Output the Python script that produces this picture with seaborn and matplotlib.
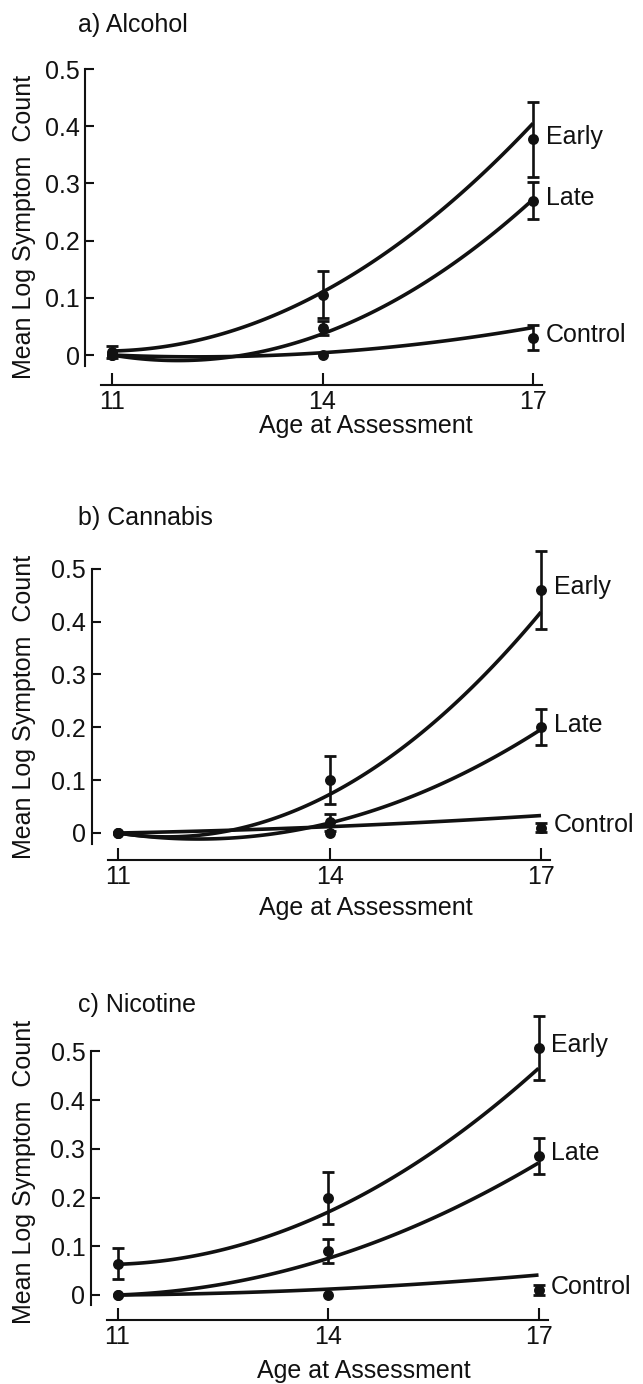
import numpy as np
import pandas as pd
import matplotlib
matplotlib.use("Agg")
import matplotlib.pyplot as plt
import seaborn as sns

# ---- data ---------------------------------------------------------------
ages = [11, 14, 17]
groups = ["Early", "Late", "Control"]
ytick_vals = [0, 0.1, 0.2, 0.3, 0.4, 0.5]
ytick_labels = ["0", "0.1", "0.2", "0.3", "0.4", "0.5"]

# observed means (dots), rows = Early, Late, Control
alcohol_means = [[0.005, 0.105, 0.377], [0.0, 0.047, 0.270], [0.0, 0.0, 0.030]]
cannabis_means = [[0.0, 0.100, 0.460], [0.0, 0.020, 0.200], [0.0, 0.0, 0.010]]
nicotine_means = [[0.064, 0.199, 0.507], [0.0, 0.090, 0.285], [0.0, 0.0, 0.011]]

# error bar half-widths
alcohol_errs = [[0.010, 0.041, 0.065], [0.0, 0.012, 0.033], [0.0, 0.0, 0.022]]
cannabis_errs = [[0.0, 0.045, 0.074], [0.0, 0.016, 0.034], [0.0, 0.0, 0.009]]
nicotine_errs = [[0.032, 0.054, 0.065], [0.0, 0.024, 0.037], [0.0, 0.0, 0.010]]

# model-fitted values at each age (the smooth curves)
alcohol_fits = [[0.007, 0.110, 0.405], [0.0, 0.037, 0.272], [0.0, 0.004, 0.048]]
cannabis_fits = [[0.0, 0.073, 0.418], [0.0, 0.019, 0.196], [0.0, 0.012, 0.033]]
nicotine_fits = [[0.063, 0.170, 0.465], [0.0, 0.075, 0.271], [0.0, 0.012, 0.041]]

titles = ["a) Alcohol", "b) Cannabis", "c) Nicotine"]

# ---- style ---------------------------------------------------------------
sns.set_theme(style="ticks")
plt.rcParams["font.family"] = ["Liberation Sans", "DejaVu Sans"]
INK = "#111111"
FS = 18

W, H = 643, 1384
XLIM = (10.62, 17.15)
YLIM = (-0.052, 0.6)

# pixel layout per panel: x of age 11, px per year, y of zero, px per unit,
# title baseline, x-label baseline, x-label centre, y-label centre
layout = [
    dict(x11=112.0, ppy=70.17, y0=355.0, ppu=572.0, tb=31.7, xb=433.0, xc=366, yc=226.5),
    dict(x11=118.3, ppy=70.45, y0=833.0, ppu=528.6, tb=525.0, xb=915.0, xc=366, yc=707.0),
    dict(x11=117.5, ppy=70.17, y0=1295.0, ppu=487.4, tb=1011.7, xb=1378.0, xc=364, yc=1171.7),
]

panel_data = [
    (alcohol_means, alcohol_errs, alcohol_fits),
    (cannabis_means, cannabis_errs, cannabis_fits),
    (nicotine_means, nicotine_errs, nicotine_fits),
]

fig = plt.figure(figsize=(W / 100, H / 100), dpi=100)

for title, lay, (means, errs, fits) in zip(titles, layout, panel_data):
    left = lay["x11"] - (11 - XLIM[0]) * lay["ppy"]
    right = lay["x11"] + (XLIM[1] - 11) * lay["ppy"]
    bottom = lay["y0"] - YLIM[0] * lay["ppu"]
    top = lay["y0"] - YLIM[1] * lay["ppu"]
    ax = fig.add_axes([left / W, 1 - bottom / H, (right - left) / W, (bottom - top) / H])
    ax.patch.set_visible(False)

    rows = []
    for g, m, e, f in zip(groups, means, errs, fits):
        for a, mv, ev, fv in zip(ages, m, e, f):
            rows.append(dict(group=g, age=a, mean=mv, err=ev, fit=fv))
    df = pd.DataFrame(rows)

    # fitted quadratic curves
    for g in groups:
        sub = df[df["group"] == g]
        sns.regplot(x=sub["age"].values, y=sub["fit"].values, order=2, ci=None,
                    scatter=False, truncate=True, ax=ax,
                    line_kws=dict(color=INK, lw=2.6, solid_capstyle="butt"))

    # error bars (only where there is one)
    eb = df[df["err"] > 0]
    ax.errorbar(eb["age"], eb["mean"], yerr=eb["err"], fmt="none", ecolor=INK,
                elinewidth=1.9, capsize=4.3, capthick=2.0, zorder=3)

    # observed means
    sns.scatterplot(data=df, x="age", y="mean", ax=ax, color=INK, s=62,
                    edgecolor=INK, linewidth=0, zorder=4, legend=False)

    # group labels next to the age-17 points
    for g in groups:
        y17 = df[(df["group"] == g) & (df["age"] == 17)]["mean"].iloc[0]
        ax.annotate(g, xy=(17, y17), xytext=(9, 2), textcoords="offset points",
                    ha="left", va="center", fontsize=FS, color=INK,
                    annotation_clip=False)

    ax.set_xlim(*XLIM)
    ax.set_ylim(*YLIM)
    ax.set_xticks(ages)
    ax.set_xticklabels([str(a) for a in ages])
    ax.set_yticks(ytick_vals)
    ax.set_yticklabels(ytick_labels)

    sns.despine(ax=ax)
    for side in ["left", "bottom"]:
        ax.spines[side].set_linewidth(1.5)
        ax.spines[side].set_color(INK)
    ax.spines["left"].set_bounds(-0.02, 0.5)
    ax.spines["bottom"].set_bounds(10.85, 17.13)

    ax.tick_params(axis="x", direction="in", length=8.5, width=1.5, pad=3.5,
                   labelsize=FS, colors=INK)
    ax.tick_params(axis="y", direction="in", length=6.5, width=1.5, pad=4,
                   labelsize=FS, colors=INK)

    ax.set_xlabel("Age at Assessment", fontsize=FS, color=INK)
    ax.xaxis.set_label_coords(lay["xc"] / W, 1 - lay["xb"] / H, transform=fig.transFigure)
    ax.xaxis.label.set_va("baseline")

    ax.set_ylabel("Mean Log Symptom  Count", fontsize=FS, color=INK)
    ax.yaxis.set_label_coords(24.5 / W, 1 - lay["yc"] / H, transform=fig.transFigure)
    ax.yaxis.label.set_va("center")

    fig.text(78 / W, 1 - lay["tb"] / H, title, fontsize=FS, color=INK,
             ha="left", va="baseline")

fig.savefig("out.png", dpi=100)
plt.close(fig)
